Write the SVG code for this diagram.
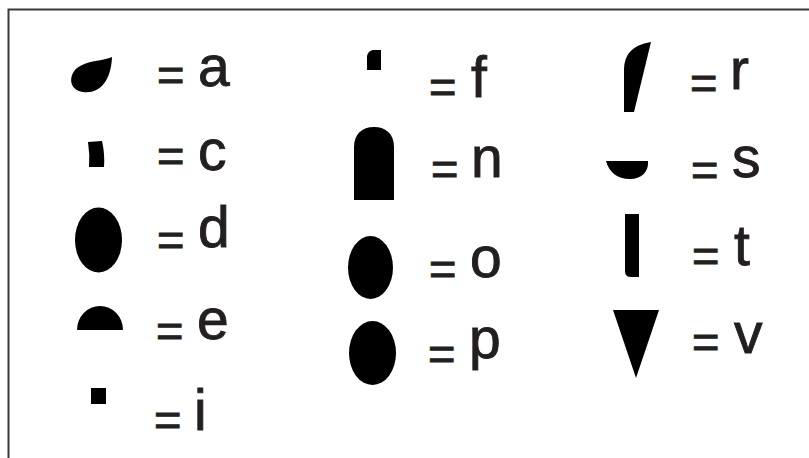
<svg xmlns="http://www.w3.org/2000/svg" width="809" height="458" viewBox="0 0 809 458">
<style>
.sym{fill:#000}
.eq{font-family:"Liberation Sans",Arial,sans-serif;font-size:47px;fill:#231f20;stroke:#231f20;stroke-width:1}
.lt{font-family:"Liberation Sans",Arial,sans-serif;font-size:57px;fill:#231f20;stroke:#231f20;stroke-width:0.9}
</style>
<rect width="809" height="458" fill="#fff"/>
<path d="M8.5,458 V9.5 H809" fill="none" stroke="#3a3a3a" stroke-width="2"/>
<g id="key-a">
<path class="sym" d="M112,57 C104,61 87,60 77,68 C68,76 69,90 83,92 C99,94 111,82 112,57 Z"/>
<text class="eq" x="157" y="91">=</text>
<text class="lt" x="198" y="86">a</text>
</g>
<g id="key-c">
<path class="sym" d="M88,142 L102,141 Q105,154 104,167 L89,167 Q90,155 88,142 Z"/>
<text class="eq" x="157" y="172">=</text>
<text class="lt" x="198" y="170">c</text>
</g>
<g id="key-d">
<ellipse class="sym" cx="98.5" cy="240" rx="23.5" ry="32.5"/>
<text class="eq" x="157" y="256">=</text>
<text class="lt" x="198" y="247">d</text>
</g>
<g id="key-e">
<path class="sym" d="M77,330 A23,24 0 0 1 123,330 Z"/>
<text class="eq" x="156" y="347">=</text>
<text class="lt" x="197" y="339">e</text>
</g>
<g id="key-i">
<rect class="sym" x="91" y="388" width="15" height="16"/>
<text class="eq" x="154" y="436">=</text>
<text class="lt" x="194" y="430">i</text>
</g>
<g id="key-f">
<path class="sym" d="M367,70 L367,56 Q368,51 373,50 L381,50 L381,70 Z"/>
<text class="eq" x="429" y="103">=</text>
<text class="lt" x="471" y="97">f</text>
</g>
<g id="key-n">
<path class="sym" d="M354,200 L354,147 C354,134 362,127 374,127 C386,127 394,134 394,147 L394,200 Z"/>
<text class="eq" x="431" y="185">=</text>
<text class="lt" x="471" y="177">n</text>
</g>
<g id="key-o">
<ellipse class="sym" cx="370.5" cy="267.5" rx="22.5" ry="31.5"/>
<text class="eq" x="429" y="285">=</text>
<text class="lt" x="470" y="277">o</text>
</g>
<g id="key-p">
<ellipse class="sym" cx="372.5" cy="353" rx="23.5" ry="32"/>
<text class="eq" x="428" y="370">=</text>
<text class="lt" x="469" y="358">p</text>
</g>
<g id="key-r">
<path class="sym" d="M651,42 L634,112 L624,112 L624,70 C624,55 632,45 651,42 Z"/>
<text class="eq" x="690" y="99">=</text>
<text class="lt" x="730" y="89">r</text>
</g>
<g id="key-s">
<path class="sym" d="M606,161 L648,161 C649,172 641,179 630,179 C617,179 609,172 606,161 Z"/>
<text class="eq" x="691" y="186">=</text>
<text class="lt" x="732" y="177">s</text>
</g>
<g id="key-t">
<path class="sym" d="M625,214 L639,214 L639,277 L631,277 Q625,277 625,271 Z"/>
<text class="eq" x="692" y="272">=</text>
<text class="lt" x="734" y="265">t</text>
</g>
<g id="key-v">
<polygon class="sym" points="613,310 659,310 636,378"/>
<text class="eq" x="692" y="358">=</text>
<text class="lt" x="734" y="353">v</text>
</g>
</svg>
